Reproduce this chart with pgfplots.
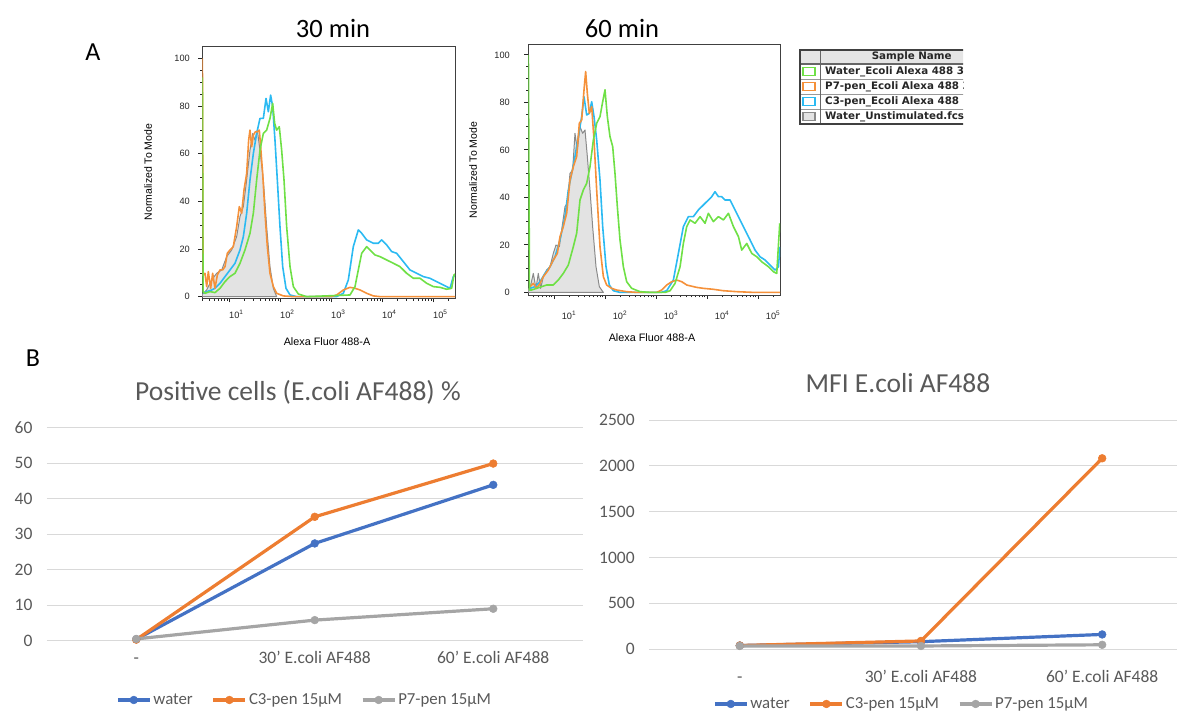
\documentclass[border=0pt]{standalone}
\usepackage{fontspec}
\setmainfont{Carlito}
\newfontfamily\flowfont{Liberation Sans}
\newfontfamily\tabfont{DejaVu Sans}
\usepackage{pgfplots}
\usepackage{pgfplotstable}
\pgfplotsset{compat=1.18}

\definecolor{xblue}{HTML}{4472C4}
\definecolor{xorange}{HTML}{ED7D31}
\definecolor{xgray}{HTML}{A5A5A5}
\definecolor{xtext}{HTML}{595959}
\definecolor{xgrid}{HTML}{D9D9D9}
\definecolor{fgreen}{HTML}{6FE046}
\definecolor{forange}{HTML}{F5913A}
\definecolor{fcyan}{HTML}{2BBAF2}
\definecolor{fgray}{HTML}{8A8A8A}
\definecolor{ffill}{HTML}{E3E3E3}

% ---- histograms, x in decades (log10), y in % of mode
% 30 min
\pgfplotstableread{
d v
0.470 1.0
0.490 1.4
0.556 2.8
0.654 7.0
0.752 9.8
0.850 11.2
0.948 16.8
1.046 19.6
1.144 25.2
1.209 33.6
1.275 37.8
1.340 49.0
1.405 61.5
1.458 68.5
1.503 65.7
1.549 69.9
1.601 61.5
1.667 49.0
1.732 29.4
1.797 12.6
1.863 3.5
1.928 0
}\graythirty
\pgfplotstableread{
d v
0.472 100
0.485 9.0
0.523 9.8
0.556 4.2
0.588 10.5
0.634 3.5
0.673 9.8
0.719 3.5
0.765 9.1
0.817 11.2
0.869 11.2
0.915 12.6
0.961 18.2
1.013 19.6
1.078 21.0
1.144 29.4
1.196 37.8
1.242 35.0
1.288 44.8
1.340 51.7
1.379 65.7
1.405 69.9
1.438 62.9
1.471 67.8
1.510 69.2
1.549 69.2
1.588 69.9
1.614 62.9
1.654 51.7
1.699 35.0
1.745 21.0
1.797 9.8
1.863 4.2
1.928 1.4
2.059 0.3
2.255 0
3.000 0
3.105 0.7
3.235 2.8
3.366 3.9
3.464 3.5
3.562 2.8
3.693 1.4
3.824 0.3
3.954 0
5.425 0
}\orangethirty
\pgfplotstableread{
d v
0.490 1.4
0.556 2.1
0.654 2.8
0.719 3.5
0.817 5.6
0.915 8.4
1.013 11.2
1.111 14.0
1.209 19.6
1.275 25.2
1.340 35.0
1.405 49.0
1.471 60.1
1.536 68.5
1.601 74.8
1.667 74.8
1.719 83.2
1.765 77.6
1.810 84.6
1.850 79.7
1.895 65.7
1.941 49.0
1.993 29.4
2.046 12.6
2.111 3.5
2.190 0.7
2.320 0
3.105 0
3.235 1.4
3.333 7.0
3.431 21.0
3.529 28.0
3.595 26.6
3.693 23.8
3.824 22.4
3.922 22.4
3.987 23.8
4.085 21.7
4.183 18.9
4.281 18.2
4.412 14.7
4.542 11.2
4.673 9.8
4.804 8.4
4.935 7.7
5.065 6.3
5.196 4.9
5.327 3.5
5.392 8.4
5.425 9.0
}\cyanthirty
\pgfplotstableread{
d v
0.472 92
0.485 2.0
0.523 1.4
0.621 2.1
0.719 1.7
0.817 3.5
0.915 6.3
1.013 8.4
1.111 9.8
1.209 14.0
1.307 19.6
1.405 26.6
1.471 35.0
1.536 49.0
1.601 61.5
1.667 68.5
1.732 69.9
1.797 74.8
1.850 81.1
1.889 72.7
1.928 69.9
1.980 71.3
2.026 61.5
2.072 49.0
2.124 29.4
2.190 12.6
2.255 4.2
2.353 1.1
2.516 0
3.366 0.7
3.464 4.2
3.529 11.2
3.595 18.2
3.693 21.0
3.758 19.6
3.856 17.5
3.954 16.8
4.085 15.4
4.216 14.0
4.346 12.6
4.477 9.8
4.608 7.7
4.739 7.7
4.869 5.6
5.000 4.2
5.131 3.9
5.261 3.1
5.359 3.5
5.405 9.1
5.425 9.5
}\greenthirty
% 60 min
\pgfplotstableread{
d v
0.497 1.5
0.530 1.7
0.595 8.0
0.647 1.7
0.693 8.0
0.739 1.7
0.791 6.6
0.856 9.4
0.922 10.8
0.987 16.4
1.039 19.9
1.105 19.2
1.151 26.3
1.216 36.1
1.262 37.5
1.314 50.1
1.366 51.5
1.412 67.0
1.458 60.0
1.510 69.8
1.562 67.0
1.608 68.4
1.654 57.2
1.706 43.1
1.758 27.7
1.824 10.8
1.889 2.4
1.968 0
}\graysixty
\pgfplotstableread{
d v
0.530 2.4
0.595 3.8
0.660 1.7
0.726 3.8
0.791 6.6
0.889 9.4
0.987 13.6
1.066 16.4
1.118 23.5
1.183 27.7
1.249 33.3
1.314 47.3
1.379 52.9
1.445 57.2
1.497 71.2
1.543 72.6
1.589 85.3
1.621 93.0
1.654 83.8
1.693 75.4
1.739 78.2
1.785 64.2
1.837 43.1
1.902 19.2
1.968 6.6
2.033 3.1
2.131 1.7
2.229 1.0
2.425 0.3
2.621 0
3.013 0
3.111 1.0
3.209 3.1
3.307 4.5
3.406 5.2
3.504 4.5
3.602 3.1
3.798 2.1
3.928 1.7
4.124 1.3
4.321 0.7
4.582 0.3
4.909 0
5.430 0
}\orangesixty
\pgfplotstableread{
d v
0.530 1.7
0.628 2.4
0.726 4.5
0.824 8.0
0.922 10.8
1.020 15.0
1.118 22.1
1.216 31.9
1.281 43.1
1.347 50.1
1.412 57.2
1.477 65.6
1.543 74.0
1.589 82.4
1.641 74.7
1.693 75.4
1.739 80.3
1.785 74.0
1.837 64.2
1.902 47.3
1.955 27.7
2.020 10.8
2.085 3.1
2.164 0.7
2.294 0
3.100 0
3.209 0.7
3.340 5.2
3.438 16.4
3.536 27.7
3.634 31.9
3.732 31.9
3.830 34.7
3.928 36.8
4.026 38.9
4.092 40.3
4.157 42.4
4.223 40.3
4.288 40.3
4.353 38.9
4.451 38.9
4.549 34.7
4.647 30.5
4.745 26.3
4.843 22.1
4.941 17.8
5.039 15.0
5.138 13.6
5.236 11.5
5.334 9.4
5.399 10.8
5.430 19.2
}\cyansixty
\pgfplotstableread{
d v
0.499 100
0.520 1.0
0.562 1.0
0.660 1.7
0.758 2.4
0.856 3.1
0.987 3.1
1.085 5.2
1.183 8.0
1.281 11.5
1.379 19.2
1.445 24.9
1.510 38.9
1.575 43.1
1.641 45.9
1.706 52.9
1.772 64.2
1.837 71.2
1.902 74.0
1.955 80.3
2.000 85.3
2.046 74.0
2.098 65.6
2.151 61.4
2.196 50.1
2.242 36.1
2.294 22.1
2.360 10.8
2.425 4.5
2.523 1.7
2.687 0.3
2.883 0
3.180 0
3.275 0.7
3.373 3.8
3.471 10.8
3.536 20.6
3.602 27.7
3.667 30.5
3.765 29.1
3.863 31.9
3.961 29.1
4.026 33.3
4.124 29.8
4.223 31.9
4.321 30.5
4.419 33.3
4.517 27.7
4.615 23.5
4.680 17.8
4.778 20.6
4.876 16.4
4.974 15.0
5.072 12.9
5.203 10.8
5.301 8.7
5.366 8.0
5.425 29.1
}\greensixty

\pgfplotsset{
  flow/.style={
    scale only axis, anchor=south west, clip=true,
    tick align=outside, tick pos=left,
    xtick={1,2,3,4,5},
    xticklabels={10\textsuperscript{1},10\textsuperscript{2},10\textsuperscript{3},10\textsuperscript{4},10\textsuperscript{5}},
    minor xtick={0.301,0.477,0.602,0.699,0.778,0.845,0.903,0.954,
      1.301,1.477,1.602,1.699,1.778,1.845,1.903,1.954,
      2.301,2.477,2.602,2.699,2.778,2.845,2.903,2.954,
      3.301,3.477,3.602,3.699,3.778,3.845,3.903,3.954,
      4.301,4.477,4.602,4.699,4.778,4.845,4.903,4.954,
      5.301},
    ytick={0,20,40,60,80,100},
    minor ytick={5,10,15,25,30,35,45,50,55,65,70,75,85,90,95},
    major tick length=4pt, minor tick length=2.3pt,
    major tick style={black!85, line width=0.9pt},
    minor tick style={black!85, line width=0.6pt},
    axis line style={black!75, line width=0.9pt},
    ticklabel style={font=\flowfont\fontsize{9.2}{10}\selectfont, text=black!85},
    xticklabel style={xshift=7pt, yshift=-4.5pt},
    yticklabel style={xshift=-5pt},
    /pgf/number format/assume math mode=true,
  },
  hist/.style={line width=1.6pt, line join=round},
  excel/.style={
    scale only axis, anchor=south west, clip=false,
    axis line style={draw=none},
    major tick style={draw=none},
    ymajorgrids, major grid style={draw=xgrid, line width=1pt},
    xtick={0,1,2},
    xticklabels={-,{30' E.coli AF488},{60' E.coli AF488}},
    xmin=-0.5, ymin=0,
    ticklabel style={font=\fontsize{17.5}{20}\selectfont, text=xtext},
    xticklabel style={text height=12pt, text depth=4pt, yshift=-7pt},
    yticklabel style={xshift=-11pt},
    scaled y ticks=false,
    /pgf/number format/1000 sep={},
    /pgf/number format/assume math mode=true,
    legend columns=3,
    legend style={draw=none, fill=none, inner sep=0pt, anchor=west,
      font=\fontsize{16.8}{19}\selectfont, text=xtext,
      nodes={inner xsep=2pt, inner ysep=1pt},
      /tikz/every even column/.append style={column sep=17pt}},
    legend image code/.code={\draw[mark repeat=2,mark phase=2,##1] plot coordinates {(0pt,0pt) (16pt,0pt) (32pt,0pt)};},
    every axis plot/.append style={line width=3.2pt, line join=round, mark=*,
      mark size=3.9pt, mark options={solid, line width=0.5pt}},
  },
}

\begin{document}
\begin{tikzpicture}
\path[use as bounding box] (0pt,0pt) rectangle (1177pt,713pt);

% ---- A: 30 min histogram
\begin{axis}[flow, at={(202.3pt,414.7pt)}, width=252.7pt, height=252.3pt,
  xmin=0.47, xmax=5.425, ymin=-0.7, ymax=105.2]
\addplot[hist, draw=fgray, fill=ffill, line width=1pt] table[x=d, y=v] {\graythirty} \closedcycle;
\addplot[hist, fcyan] table[x=d, y=v] {\cyanthirty};
\addplot[hist, forange] table[x=d, y=v] {\orangethirty};
\addplot[hist, fgreen] table[x=d, y=v] {\greenthirty};
\end{axis}

% ---- A: 60 min histogram
\begin{axis}[flow, at={(528.3pt,418pt)}, width=251.7pt, height=251pt,
  xmin=0.497, xmax=5.43, ymin=-1.1, ymax=104.6,
  xticklabel style={xshift=8pt, yshift=-4pt}, yticklabel style={xshift=-6pt}]
\addplot[hist, draw=fgray, fill=ffill, line width=1pt] table[x=d, y=v] {\graysixty} \closedcycle;
\addplot[hist, fcyan] table[x=d, y=v] {\cyansixty};
\addplot[hist, forange] table[x=d, y=v] {\orangesixty};
\addplot[hist, fgreen] table[x=d, y=v] {\greensixty};
\end{axis}

% ---- B: positive cells %
\begin{axis}[excel, at={(47pt,72.3pt)}, width=535.5pt, height=213pt,
  xmax=2.5, ymax=60, ytick={0,10,20,30,40,50,60},
  legend style={at={(0.1289,-0.2783)}}]
\addplot[xblue] coordinates {(0,0.4) (1,27.4) (2,43.9)};
\addplot[xorange] coordinates {(0,0.3) (1,34.9) (2,49.9)};
\addplot[xgray] coordinates {(0,0.5) (1,5.8) (2,9.0)};
\legend{water, C3-pen 15µM, P7-pen 15µM}
\end{axis}

% ---- B: MFI
\begin{axis}[excel, at={(649.2pt,64pt)}, width=527.8pt, height=229pt,
  xmax=2.413, ymax=2500, ytick={0,500,1000,1500,2000,2500},
  xticklabel style={yshift=-11pt},
  legend style={at={(0.1209,-0.2400)}}]
\addplot[xblue] coordinates {(0,38) (1,80) (2,159)};
\addplot[xorange] coordinates {(0,38) (1,88) (2,2082)};
\addplot[xgray] coordinates {(0,33) (1,33) (2,46)};
\legend{water, C3-pen 15µM, P7-pen 15µM}
\end{axis}

\begin{scope}[x=1pt, y=1pt]
% panel letters and titles
\node[font=\fontsize{26}{30}\selectfont] at (93,661) {A};
\node[font=\fontsize{26}{30}\selectfont] at (33,355) {B};
\node[font=\fontsize{26.5}{30}\selectfont] at (333,685) {30 min};
\node[font=\fontsize{26.5}{30}\selectfont] at (622,685) {60 min};
\node[font=\fontsize{27.5}{31}\selectfont, text=xtext] at (298,321) {Positive cells (E.coli AF488) \%};
\node[font=\fontsize{27.5}{31}\selectfont, text=xtext] at (898,330) {MFI E.coli AF488};

% histogram axis labels
\node[font=\flowfont\fontsize{10.5}{12}\selectfont, rotate=90] at (148,541) {Normalized To Mode};
\node[font=\flowfont\fontsize{10.5}{12}\selectfont, rotate=90] at (473,543) {Normalized To Mode};
\node[font=\flowfont\fontsize{10.8}{12}\selectfont] at (327,371) {Alexa Fluor 488-A};
\node[font=\flowfont\fontsize{10.8}{12}\selectfont] at (652,375) {Alexa Fluor 488-A};

% sample table of the histograms
\begin{scope}
\clip (797,586) rectangle (963,666);
\fill[black!10] (800,649) rectangle (980,663);
\foreach \yy in {634,619,604}
  \draw[black!40, line width=0.8pt] (800,\yy) -- (980,\yy);
\draw[black!60, line width=1.2pt] (800,649) -- (980,649);
\draw[black!60, line width=1.2pt] (820.7,589) -- (820.7,663);
\draw[black!75, line width=1.6pt] (800,589) rectangle (985,663);
\draw[fgreen, line width=1.2pt] (803,637.5) rectangle (815,645.5);
\draw[forange, line width=1.2pt] (803,622.5) rectangle (815,630.5);
\draw[fcyan, line width=1.2pt] (803,607.5) rectangle (815,615.5);
\draw[fgray, fill=ffill, line width=1.2pt] (803,592.5) rectangle (815,600.5);
\begin{scope}[every node/.style={font=\tabfont\bfseries\fontsize{10.3}{12}\selectfont, text=black!85, inner sep=0pt}]
\node at (911.7,656) {Sample Name};
\node[anchor=west] at (825,641.5) {Water\_Ecoli Alexa 488 30 min.fcs};
\node[anchor=west] at (825,626.5) {P7-pen\_Ecoli Alexa 488 30 min.fcs};
\node[anchor=west] at (825,611.5) {C3-pen\_Ecoli Alexa 488\ \ 30 min.fcs};
\node[anchor=west] at (825,596.5) {Water\_Unstimulated.fcs};
\end{scope}
\end{scope}
\end{scope}
\end{tikzpicture}
\end{document}
